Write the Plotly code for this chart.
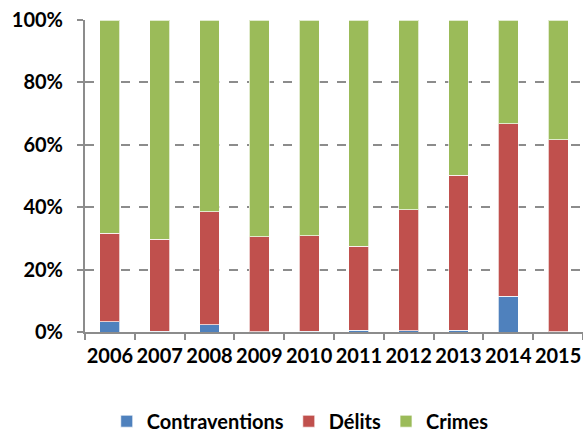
import plotly.graph_objects as go

years = ["2006", "2007", "2008", "2009", "2010", "2011", "2012", "2013", "2014", "2015"]
contraventions = [3.3, 0.2, 2.3, 0.1, 0.2, 0.5, 0.4, 0.6, 11.4, 0.1]
delits = [28.3, 29.6, 36.3, 30.5, 30.7, 27.0, 38.8, 49.7, 55.4, 61.6]
crimes = [68.4, 70.2, 61.4, 69.4, 69.1, 72.5, 60.8, 49.7, 33.2, 38.3]

series = [
    ("Contraventions", contraventions, "#4F81BD"),
    ("Délits", delits, "#C0504D"),
    ("Crimes", crimes, "#9BBB59"),
]

font_family = "Lato, 'Open Sans', sans-serif"

fig = go.Figure()
for name, values, color in series:
    fig.add_trace(go.Bar(
        x=years,
        y=[v / 100 for v in values],
        name=name,
        marker=dict(color=color, line=dict(color="rgba(255,255,255,0.7)", width=1)),
    ))

fig.update_layout(
    barmode="stack",
    bargap=0.6,
    width=583,
    height=432,
    margin=dict(l=85, r=0, t=20, b=100, autoexpand=False),
    plot_bgcolor="white",
    paper_bgcolor="white",
    font=dict(family=font_family, size=18, color="#000000"),
    showlegend=True,
    legend=dict(
        orientation="h",
        xref="container", yref="container",
        x=0.515, xanchor="center",
        y=0.025, yanchor="middle",
        font=dict(family=font_family, size=20, color="#000000", weight="bold"),
        itemwidth=30,
        traceorder="normal",
    ),
)

fig.update_xaxes(
    type="category",
    automargin=False,
    tickangle=0,
    showline=True, linecolor="#8C8C8C", linewidth=2,
    ticks="outside", tickson="boundaries", ticklen=6, tickcolor="#8C8C8C", tickwidth=2,
    tickfont=dict(family=font_family, size=20, color="#000000", weight="bold"),
    ticklabelstandoff=5,
    showgrid=False,
)

fig.update_yaxes(
    range=[0, 1],
    automargin=False,
    tickvals=[0, 0.2, 0.4, 0.6, 0.8, 1.0],
    tickformat=".0%",
    showline=True, linecolor="#8C8C8C", linewidth=2,
    ticks="outside", ticklen=6, tickcolor="#8C8C8C", tickwidth=2,
    tickfont=dict(family=font_family, size=20, color="#000000", weight="bold"),
    ticklabelstandoff=10,
    showgrid=True, gridcolor="#8C8C8C", gridwidth=1.5, griddash="dash",
    zeroline=False,
)

fig.write_html("out.html")
